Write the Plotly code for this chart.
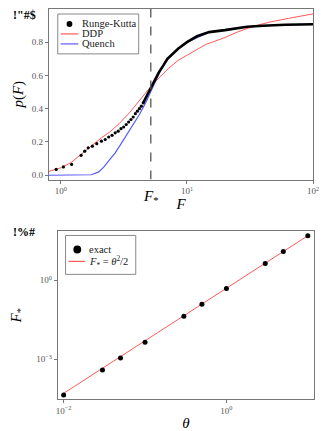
import numpy as np
import plotly.graph_objects as go

# ---- painel superior: p(F) ----
F_STAR = 5.17

rk_F = [0.92, 1.05, 1.22, 1.45, 1.55, 1.65, 1.78, 1.93, 2.1, 2.25, 2.4, 2.55, 2.7, 2.85,
        3.0, 3.15, 3.3, 3.45, 3.6, 3.75, 3.9, 4.05, 4.2, 4.35, 4.5]
rk_p = [0.035, 0.05, 0.065, 0.12, 0.145, 0.165, 0.175, 0.19, 0.205, 0.215, 0.23, 0.24,
        0.255, 0.265, 0.28, 0.29, 0.305, 0.32, 0.335, 0.35, 0.37, 0.385, 0.40, 0.415, 0.435]
# trecho denso do Runge-Kutta (pontos se sobrepõem e viram uma linha grossa)
rk_dense_F = [4.5, 4.8, 5.2, 5.6, 6.0, 6.5, 7.0, 8.5, 10, 12, 15, 20, 25, 30, 40, 60, 100]
rk_dense_p = [0.435, 0.475, 0.53, 0.58, 0.62, 0.66, 0.70, 0.76, 0.80, 0.835, 0.86, 0.872,
              0.885, 0.892, 0.898, 0.904, 0.907]

ddp_F = [0.8, 1.0, 1.2, 1.5, 1.8, 2.1, 2.45, 2.9, 3.5, 4.2, 5.2, 6.0, 7.1, 8.5, 10.7, 14,
         19.6, 25, 33.6, 45, 64, 100]
ddp_p = [0.022, 0.045, 0.075, 0.135, 0.185, 0.225, 0.26, 0.31, 0.375, 0.45, 0.535, 0.585,
         0.64, 0.69, 0.735, 0.785, 0.825, 0.86, 0.895, 0.92, 0.943, 0.97]

q_F = [0.8, 1.5, 1.75, 2.0, 2.2, 2.45, 2.7, 2.95, 3.25, 3.5, 3.8, 4.2, 4.7, 5.2, 6.0, 7.0,
       8.5, 10, 15, 20, 30, 50, 100]
q_p = [0.0, 0.0, 0.003, 0.02, 0.05, 0.095, 0.135, 0.18, 0.23, 0.265, 0.31, 0.365, 0.435,
       0.51, 0.61, 0.695, 0.76, 0.80, 0.86, 0.876, 0.893, 0.903, 0.907]

# ---- painel inferior: F* vs theta ----
theta = [0.01, 0.03, 0.05, 0.1, 0.3, 0.5, 1, 3, 5, 10]
f_exact = [4.3e-5, 3.9e-4, 1.1e-3, 4.4e-3, 0.043, 0.122, 0.49, 4.4, 12.4, 50]
theta_line = [0.01, 0.1, 1, 10]
f_line = [t ** 2 / 2 for t in theta_line]

SERIF = "Liberation Serif"
EIXO = "#777777"
VERMELHO = "rgba(255,60,60,0.85)"
AZUL = "rgba(60,60,255,0.85)"

# a página tem margem de 8px no body: a figura é 8px menor e tudo é deslocado
W, H = 319, 423


def px(x):  # pixel da imagem de referência -> coordenada "paper"
    return (x - 8) / W


def py(y):
    return 1 - (y - 8) / H


fig = go.Figure()

fig.add_trace(go.Scatter(x=ddp_F, y=ddp_p, mode="lines", name="DDP",
                         line=dict(color=VERMELHO, width=1), xaxis="x", yaxis="y"))
fig.add_trace(go.Scatter(x=q_F, y=q_p, mode="lines", name="Quench",
                         line=dict(color=AZUL, width=1.2), xaxis="x", yaxis="y"))
fig.add_trace(go.Scatter(x=rk_dense_F, y=rk_dense_p, mode="lines", name="Runge-Kutta",
                         line=dict(color="black", width=2.6), xaxis="x", yaxis="y"))
fig.add_trace(go.Scatter(x=rk_F, y=rk_p, mode="markers", name="Runge-Kutta",
                         marker=dict(color="black", size=3.2), xaxis="x", yaxis="y"))

# linha tracejada em F*
fig.add_trace(go.Scatter(x=[F_STAR, F_STAR], y=[-0.026, 1.0], mode="lines",
                         line=dict(color="#555555", width=1.3, dash="dash"),
                         xaxis="x", yaxis="y"))

fig.add_trace(go.Scatter(x=theta_line, y=f_line, mode="lines", name="F* = θ²/2",
                         line=dict(color=VERMELHO, width=1), xaxis="x2", yaxis="y2"))
fig.add_trace(go.Scatter(x=theta, y=f_exact, mode="markers", name="exact",
                         marker=dict(color="black", size=5), xaxis="x2", yaxis="y2"))

eixo_base = dict(showgrid=False, zeroline=False, showline=True, linecolor=EIXO,
                 linewidth=1.2, mirror=True, ticks="outside", ticklen=3,
                 tickcolor=EIXO, tickfont=dict(family=SERIF, size=9, color="#555"))

# legendas desenhadas à mão (a legenda do plotly tem linhas altas demais)
formas = [
    dict(type="rect", xref="paper", yref="paper", x0=px(57), x1=px(140), y0=py(14),
         y1=py(54), line=dict(color="#888", width=1), fillcolor="white"),
    dict(type="circle", xref="paper", yref="paper", x0=px(66), x1=px(72), y0=py(21),
         y1=py(27), line=dict(width=0), fillcolor="black"),
    dict(type="line", xref="paper", yref="paper", x0=px(60), x1=px(78), y0=py(34),
         y1=py(34), line=dict(color=VERMELHO, width=1.2)),
    dict(type="line", xref="paper", yref="paper", x0=px(60), x1=px(78), y0=py(44),
         y1=py(44), line=dict(color=AZUL, width=1.2)),
    dict(type="rect", xref="paper", yref="paper", x0=px(65), x1=px(137), y0=py(236),
         y1=py(275), line=dict(color="#888", width=1), fillcolor="white"),
    dict(type="circle", xref="paper", yref="paper", x0=px(73), x1=px(81), y0=py(246),
         y1=py(254), line=dict(width=0), fillcolor="black"),
    dict(type="line", xref="paper", yref="paper", x0=px(68), x1=px(85), y0=py(262),
         y1=py(262), line=dict(color=VERMELHO, width=1.2)),
]


def rotulo(texto, x, y):
    return dict(text=texto, x=px(x), y=py(y), xref="paper", yref="paper",
                xanchor="left", yanchor="middle", showarrow=False,
                font=dict(family=SERIF, size=10.5, color="#222"))


anotacoes = [
    rotulo("Runge-Kutta", 80, 24),
    rotulo("DDP", 80, 34),
    rotulo("Quench", 80, 44),
    rotulo("exact", 87, 250),
    rotulo("<i>F</i><sub>*</sub> = <i>θ</i><sup>2</sup>/2", 87, 263),
    dict(text="<b>!\"#$</b>", x=px(9), y=py(15), xref="paper", yref="paper",
         xanchor="left", yanchor="middle", showarrow=False,
         font=dict(family=SERIF, size=12)),
    dict(text="<b>!%#</b>", x=px(9), y=py(233), xref="paper", yref="paper",
         xanchor="left", yanchor="middle", showarrow=False,
         font=dict(family=SERIF, size=12)),
    dict(text="<i>F</i><sub>*</sub>", x=np.log10(F_STAR), y=py(186), xref="x",
         yref="paper", xanchor="center", yanchor="top", showarrow=False,
         font=dict(family=SERIF, size=15)),
]

fig.update_layout(
    width=W, height=H,
    margin=dict(l=0, r=0, t=0, b=0),
    paper_bgcolor="white", plot_bgcolor="white",
    font=dict(family=SERIF, color="black"),
    showlegend=False,
    xaxis=dict(eixo_base, type="log", range=[-0.093, 2.0], domain=[px(48), px(319)],
               tickvals=[1, 10, 100],
               ticktext=["10<sup>0</sup>", "10<sup>1</sup>", "10<sup>2</sup>"],
               anchor="y",
               title=dict(text="<i>F</i>", font=dict(size=15), standoff=2)),
    yaxis=dict(eixo_base, range=[-0.026, 1.0], domain=[py(180), 0.998],
               tickvals=[0, 0.2, 0.4, 0.6, 0.8],
               ticktext=["0.0", "0.2", "0.4", "0.6", "0.8"],
               anchor="x",
               title=dict(text="<i>p</i>(<i>F</i>)", font=dict(size=15), standoff=4)),
    xaxis2=dict(eixo_base, type="log", range=[-2.072, 1.078], domain=[px(57), px(320)],
                tickvals=[0.01, 1], ticktext=["10<sup>−2</sup>", "10<sup>0</sup>"],
                anchor="y2",
                title=dict(text="<i>θ</i>", font=dict(size=15), standoff=4)),
    yaxis2=dict(eixo_base, type="log", range=[-4.52, 1.86], domain=[py(400), py(232)],
                tickvals=[0.001, 1], ticktext=["10<sup>−3</sup>", "10<sup>0</sup>"],
                anchor="x2",
                title=dict(text="<i>F</i><sub>*</sub>", font=dict(size=15), standoff=14)),
    shapes=formas,
    annotations=anotacoes,
)

fig.write_html("out.html")
